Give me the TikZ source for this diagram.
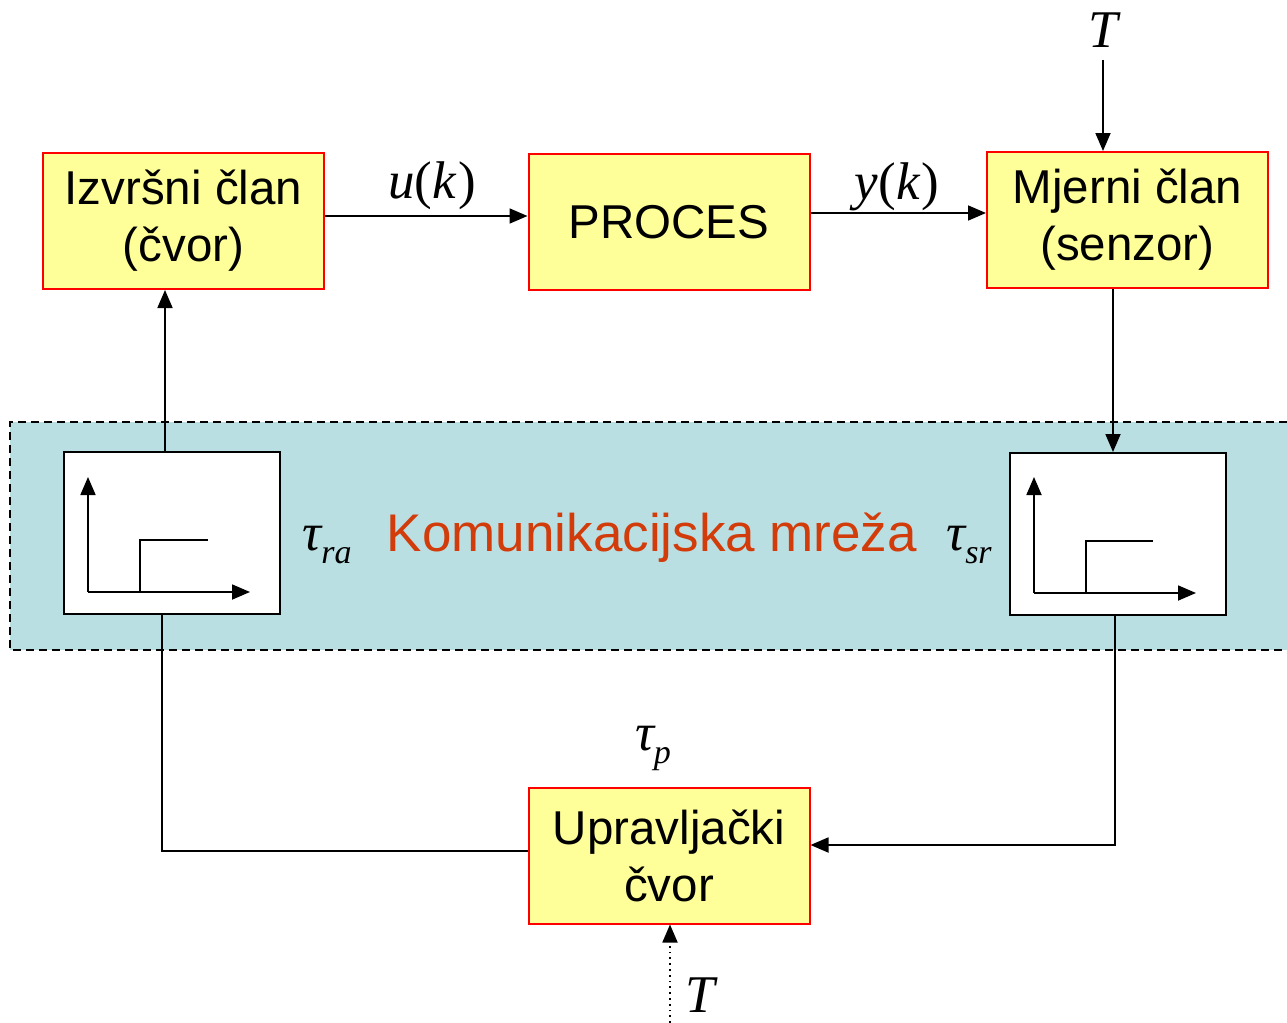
\documentclass[tikz,border=0pt]{standalone}
\usepackage{fontspec}
\setmainfont{Liberation Sans}
\newfontfamily\tms{Liberation Serif}
\usetikzlibrary{arrows.meta}

\definecolor{boxyellow}{RGB}{255,255,153}
\definecolor{netblue}{RGB}{186,223,227}
\definecolor{netred}{RGB}{210,60,10}

% italic serif symbols and delay labels
\newcommand{\mv}[1]{{\tms\itshape #1}}
\newcommand{\sig}[2]{\mv{#1}{\tms(}\mv{#2\kern1pt}{\tms)}}
\newcommand{\delaylbl}[1]{\mv{τ\raisebox{-6.5pt}{\fontsize{17}{17}\selectfont #1}}}

\begin{document}
\begin{tikzpicture}[x=0.5pt,y=-0.5pt,
  blk/.style={draw=red, fill=boxyellow, line width=1pt, minimum width=140.5pt,
    minimum height=68pt, align=center, inner sep=0pt,
    font=\fontsize{23.75}{28.5}\selectfont},
  tbox/.style={draw=black, fill=white, line width=1pt, minimum width=108pt,
    minimum height=81pt, inner sep=0pt},
  arr/.style={-{Triangle[length=9pt,width=7.5pt]}, line width=0.9pt},
  lbl/.style={font=\fontsize{26.5}{30}\selectfont, inner sep=0pt},
  axis/.style={line width=1pt}]

\useasboundingbox (0,0) rectangle (1287,1023);

% communication network band
\fill[netblue] (10,422) rectangle (1287,650);
\draw[dash pattern=on 4pt off 2.5pt, line width=0.8pt]
  (1287,422) -- (10,422) -- (10,650) -- (1287,650);

% blocks
\node[blk] (izv) at (183.5,221) {Izvršni član\\(čvor)};
\node[blk] (proc) at (669,222) {PROCES};
\node[blk] (mje) at (1127.5,220) {Mjerni član\\(senzor)};
\node[blk] (upr) at (669,855.5) {Upravljački\\čvor};

% delay boxes
\node[tbox] (lbox) at (172,533) {};
\node[tbox] (rbox) at (1118,534) {};

% step responses inside the delay boxes
\draw[axis,arr] (88,592) -- (88,477);
\draw[axis,arr] (88,592) -- (250,592);
\draw[axis] (140,592) -- (140,540) -- (208,540);
\draw[axis,arr] (1034,593) -- (1034,477);
\draw[axis,arr] (1034,593) -- (1196,593);
\draw[axis] (1086,593) -- (1086,541) -- (1153,541);

% labels
\node[lbl] (uk) at (432,186) {\sig{u}{k}};
\node[lbl] (yk) at (897,187) {\sig{y}{k}};
\node[lbl] (Ttop) at (1103,30) {\mv{T}};
\node[lbl] (Tbot) at (700,995) {\mv{T}};
\node[lbl] (tp) at (653,748) {\delaylbl{p}};
\node[lbl] (tra) at (327,545) {\delaylbl{ra}};
\node[lbl] (tsr) at (969,545) {\delaylbl{sr}};
\node[font=\fontsize{26.5}{30}\selectfont, text=netred, inner sep=0pt] (net)
  at (652,538) {Komunikacijska mreža};

% connectors
\draw[arr] (izv.east |- 0,216) -- (proc.west |- 0,216);
\draw[arr] (proc.east |- 0,213) -- (mje.west |- 0,213);
\draw[arr] ([yshift=-6pt]Ttop.south) -- (Ttop.south |- mje.north);
\draw[arr] (mje.south -| 1113,0) -- (rbox.north -| 1113,0);
\draw[arr] (lbox.north -| 165,0) -- (izv.south -| 165,0);
\draw[line width=0.9pt] (lbox.south -| 162,0) |- (upr.west |- 0,851);
\draw[arr] (rbox.south -| 1115,0) |- (upr.east |- 0,845);
\coordinate (Tin) at (670,1023);
\draw[arr, dotted] (Tin) -- (Tin |- upr.south);

\end{tikzpicture}
\end{document}
